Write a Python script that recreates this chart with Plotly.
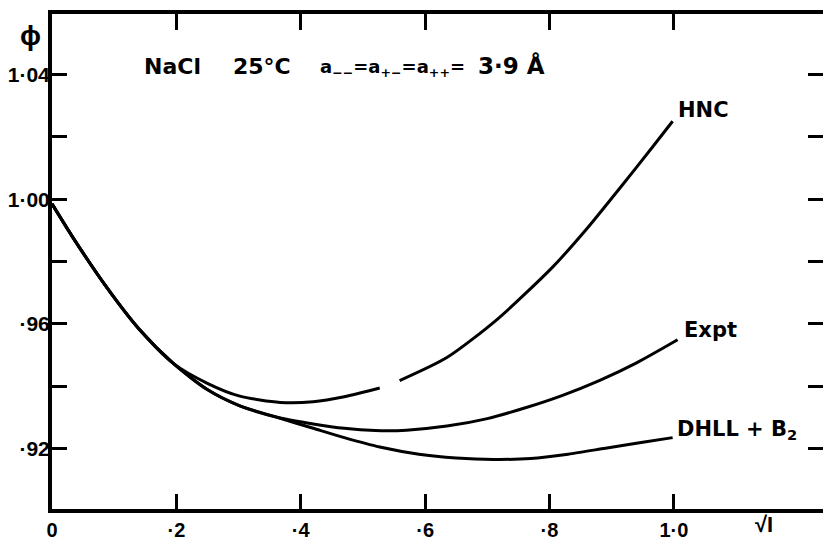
import plotly.graph_objects as go

# ---- data ----
hnc_x = [0, 0.034, 0.088, 0.141, 0.195, 0.249, 0.302, 0.367, 0.420, 0.470, 0.527, None,
         0.559, 0.635, 0.715, 0.805, 0.860, 0.913, 0.966, 0.998]
hnc_y = [0.9985, 0.9876, 0.9717, 0.9581, 0.9473, 0.9410, 0.9368, 0.9348, 0.9350, 0.9366, 0.9394, None,
         0.9418, 0.9492, 0.9613, 0.9782, 0.9905, 1.0035, 1.0168, 1.0250]

expt_x = [0, 0.034, 0.088, 0.141, 0.195, 0.249, 0.302, 0.367, 0.420, 0.470, 0.520, 0.570,
          0.635, 0.700, 0.760, 0.820, 0.880, 0.940, 1.006]
expt_y = [0.9985, 0.9876, 0.9717, 0.9581, 0.9473, 0.9390, 0.9337, 0.9298, 0.9279, 0.9265, 0.9258, 0.9259,
          0.9272, 0.9296, 0.9330, 0.9370, 0.9418, 0.9475, 0.9549]

dhll_x = [0, 0.034, 0.088, 0.141, 0.195, 0.249, 0.302, 0.367, 0.420, 0.470, 0.527, 0.590,
          0.650, 0.710, 0.770, 0.830, 0.890, 0.950, 0.998]
dhll_y = [0.9985, 0.9876, 0.9717, 0.9581, 0.9473, 0.9390, 0.9337, 0.9297, 0.9265, 0.9235, 0.9205, 0.9182,
          0.9170, 0.9165, 0.9168, 0.9182, 0.9201, 0.9220, 0.9235]

x_tickvals = [0, 0.2, 0.4, 0.6, 0.8, 1.0]
x_ticktext = ["0", "·2", "·4", "·6", "·8", "1·0"]
y_tickvals = [0.92, 0.96, 1.00, 1.04]
y_ticktext = ["·92", "·96", "1·00", "1·04"]
y_minorvals = [0.94, 0.98, 1.02]
y_alltickvals = [0.92, 0.94, 0.96, 0.98, 1.00, 1.02, 1.04]

XR = [0, 1.2398]
YR = [0.9006, 1.0594]

FONT = "Liberation Sans"
LFONT = "DejaVu Sans"
ink = "black"

fig = go.Figure()
for xs, ys in [(hnc_x, hnc_y), (expt_x, expt_y), (dhll_x, dhll_y)]:
    fig.add_trace(go.Scatter(x=xs, y=ys, mode="lines",
                             line=dict(color=ink, width=3, shape="spline", smoothing=0.7),
                             connectgaps=False, showlegend=False, hoverinfo="skip"))

# invisible trace for secondary axes
fig.add_trace(go.Scatter(x=[None], y=[None], xaxis="x2", yaxis="y2", showlegend=False))

fig.update_layout(
    width=823, height=541,
    margin=dict(l=52, r=0, t=14, b=27),
    paper_bgcolor="white", plot_bgcolor="white",
    xaxis=dict(range=XR, showgrid=False, zeroline=False,
               showline=True, linecolor=ink, linewidth=4,
               ticks="inside", ticklen=15, tickwidth=3, tickcolor=ink,
               tickvals=x_tickvals, ticktext=x_ticktext,
               tickfont=dict(family=FONT, size=20, color=ink, weight="bold")),
    yaxis=dict(range=YR, showgrid=False, zeroline=False,
               showline=True, linecolor=ink, linewidth=4,
               ticks="inside", ticklen=15, tickwidth=3, tickcolor=ink,
               tickvals=y_tickvals, ticktext=y_ticktext, ticklabelstandoff=-6,
               tickfont=dict(family=FONT, size=21, color=ink, weight="bold"),
               minor=dict(tickvals=y_minorvals, ticks="inside", ticklen=15,
                          tickwidth=3, tickcolor=ink, showgrid=False)),
    xaxis2=dict(range=XR, overlaying="x", side="top", showgrid=False, zeroline=False,
                showline=True, linecolor=ink, linewidth=4,
                ticks="inside", ticklen=16, tickwidth=3, tickcolor=ink,
                tickvals=[0.2, 0.4, 0.6, 0.8, 1.0], showticklabels=False),
    yaxis2=dict(range=YR, overlaying="y", side="right", anchor="x", showgrid=False, zeroline=False,
                showline=False,
                ticks="inside", ticklen=15, tickwidth=3, tickcolor=ink,
                tickvals=y_alltickvals, showticklabels=False),
)

def px2paper(px, py):
    return (px - 52) / 771.0, (514 - py) / 500.0

def label(text, px, py, size=20, xanchor="left", family=LFONT):
    x, y = px2paper(px, py)
    fig.add_annotation(text=text, x=x, y=y, xref="paper", yref="paper",
                       xanchor=xanchor, yanchor="middle", showarrow=False,
                       font=dict(family=family, size=size, color=ink, weight="bold"))

label("HNC", 676, 111, 21)
label("Expt", 682, 333, 21)
label("DHLL + B<sub>2</sub>", 675, 434, 21)
label("NaCl", 142, 67, 22)
label("25°C", 231, 67, 22)
label("a<sub>−−</sub>=a<sub>+−</sub>=a<sub>++</sub>=", 318, 69, 18)
label("3·9 Å", 476, 66, 23)
label("ϕ", 30, 36, 28, xanchor="center", family=FONT)
label("√I", 764, 530, 22, xanchor="center", family=FONT)

fig.write_html("out.html")
